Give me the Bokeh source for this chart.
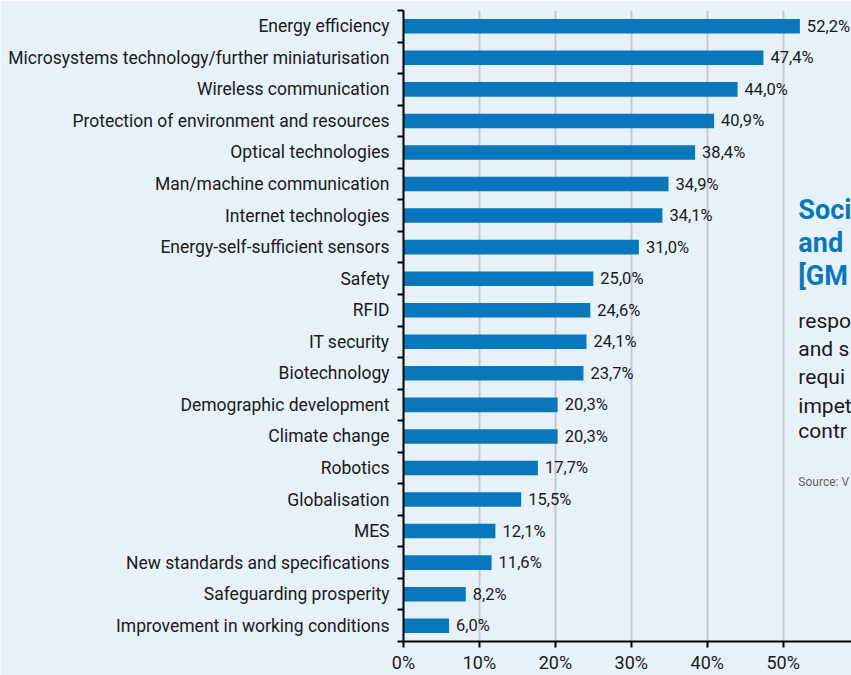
from bokeh.plotting import figure
from bokeh.models import ColumnDataSource, FixedTicker, PrintfTickFormatter, Range1d, Label
from bokeh.core.properties import value
from bokeh.embed import file_html
from bokeh.resources import INLINE

categories = [
    "Energy efficiency",
    "Microsystems technology/further miniaturisation",
    "Wireless communication",
    "Protection of environment and resources",
    "Optical technologies",
    "Man/machine communication",
    "Internet technologies",
    "Energy-self-sufficient sensors",
    "Safety",
    "RFID",
    "IT security",
    "Biotechnology",
    "Demographic development",
    "Climate change",
    "Robotics",
    "Globalisation",
    "MES",
    "New standards and specifications",
    "Safeguarding prosperity",
    "Improvement in working conditions",
]
values = [52.2, 47.4, 44.0, 40.9, 38.4, 34.9, 34.1, 31.0, 25.0, 24.6,
          24.1, 23.7, 20.3, 20.3, 17.7, 15.5, 12.1, 11.6, 8.2, 6.0]
value_labels = [f"{v:.1f}".replace(".", ",") + "%" for v in values]
x_ticks = [0, 10, 20, 30, 40, 50]

# side panel text (cut off at the right edge in the reference)
title_lines = ["Soci", "and", "[GM"]
body_lines = ["respo", "and s", "requi", "impet", "contr"]
source_text = "Source: V"

FONT = "Roboto"
BG = "#e6f1f8"
BLUE = "#0a77bd"
TXT = "#1a1a1a"

n = len(categories)
ypos = [n - 1 - i for i in range(n)]
src = ColumnDataSource(dict(y=ypos, v=values, lab=value_labels, cat=categories))

p = figure(width=851, height=675, output_backend="svg", toolbar_location=None,
           x_range=Range1d(0, 59.0), y_range=Range1d(-0.5, n - 0.5),
           min_border_left=403, min_border_right=0, min_border_top=10, min_border_bottom=34,
           background_fill_color=BG, border_fill_color=BG, outline_line_color=None)

p.hbar(y="y", left=0, right="v", height=0.46, source=src, fill_color=BLUE, line_color=None)
p.text(x="v", y="y", text="lab", source=src, x_offset=7, text_baseline="middle",
       text_font=value(FONT), text_font_size="16.5px", text_color=TXT)

p.xgrid.ticker = FixedTicker(ticks=x_ticks[1:])
p.xgrid.grid_line_color = "#c9c9c9"
p.xgrid.grid_line_width = 2
p.ygrid.grid_line_color = None

xa = p.xaxis[0]
xa.ticker = FixedTicker(ticks=x_ticks)
xa.formatter = PrintfTickFormatter(format="%d%%")
xa.major_tick_out = 6
xa.major_tick_in = 0
xa.major_tick_line_width = 2
xa.minor_tick_out = 0
xa.minor_tick_in = 0
xa.axis_line_width = 2
xa.axis_line_color = "black"
xa.major_label_text_font = FONT
xa.major_label_text_font_size = "18px"
xa.major_label_text_color = TXT
xa.major_label_standoff = 4

ya = p.yaxis[0]
ya.ticker = FixedTicker(ticks=ypos, minor_ticks=[y - 0.5 for y in range(n + 1)])
ya.major_label_overrides = {y: c for y, c in zip(ypos, categories)}
ya.major_tick_out = 0
ya.major_tick_in = 0
ya.minor_tick_out = 6
ya.minor_tick_in = 0
ya.minor_tick_line_width = 2
ya.minor_tick_line_color = "black"
ya.axis_line_width = 2
ya.axis_line_color = "black"
ya.major_label_text_font = FONT
ya.major_label_text_font_size = "17.5px"
ya.major_label_text_color = TXT
ya.major_label_standoff = 8

PANEL_X = 52.0
title_y = [13.19, 12.12, 11.07]
body_y = [9.67, 8.76, 7.87, 6.98, 6.16]
source_y = 4.57

def add_label(txt, y, size, color, style="normal"):
    p.add_layout(Label(x=PANEL_X, y=y, text=txt, text_font=FONT, text_font_size=size,
                       text_color=color, text_font_style=style,
                       text_baseline="middle", text_align="left"))

for t, y in zip(title_lines, title_y):
    add_label(t, y, "27px", BLUE, "bold")
for t, y in zip(body_lines, body_y):
    add_label(t, y, "21px", TXT)
add_label(source_text, source_y, "12px", "#666666")

open("out.html", "w").write(file_html(p, INLINE))
